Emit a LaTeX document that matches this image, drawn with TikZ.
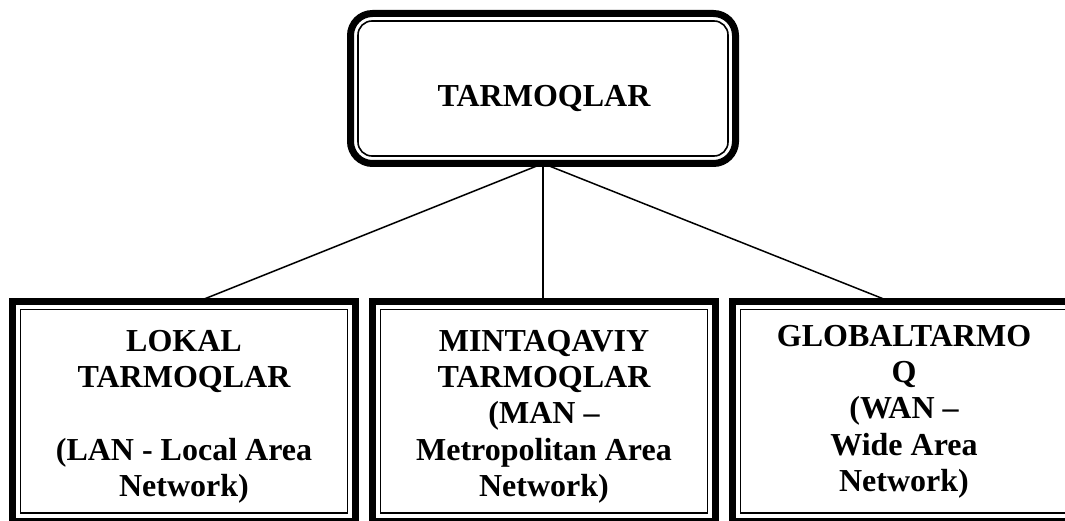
\documentclass[tikz,border=0pt]{standalone}
\usepackage{fontspec}
\setmainfont{Liberation Serif}
\usetikzlibrary{calc}
\begin{document}
\begin{tikzpicture}[x=1pt,y=1pt,
  framebox/.style={draw=black, line width=7pt, outer sep=0pt, inner sep=0pt, fill=white},
  innerframe/.style={draw=black, line width=1.6pt},
  connector/.style={draw=black, line width=1.5pt},
  caption/.style={font=\fontsize{32}{36.25}\selectfont\bfseries, align=center, inner sep=0pt}
]
\useasboundingbox (0,0) rectangle (1065,520);
\begin{scope}
\clip (0,0) rectangle (1065,520);

% root box: thick outer frame with a thin inner frame, rounded
\node[framebox, rounded corners=22pt, minimum width=385pt, minimum height=150pt] (top) at (543,431.5) {};
\draw[innerframe, rounded corners=14pt] ($(top.south west)+(7.5,7.5)$) rectangle ($(top.north east)+(-7.5,-7.5)$);
\node[caption, anchor=base] (toptext) at (544,413) {TARMOQLAR};

% three child boxes
\node[framebox, minimum width=343pt, minimum height=219.5pt] (lan) at (184,108.75) {};
\node[framebox, minimum width=343pt, minimum height=219.5pt] (man) at (544,108.75) {};
\node[framebox, minimum width=343pt, minimum height=219.5pt] (wan) at (904,108.75) {};
\foreach \b in {lan,man,wan}
  \draw[innerframe] ($(\b.south west)+(8,8)$) rectangle ($(\b.north east)+(-8,-8)$);

\node[caption] (lantext) at (184,103.3) {LOKAL\\TARMOQLAR\\[36.25pt](LAN - Local Area\\Network)};
\node[caption] (mantext) at (544,103.3) {MINTAQAVIY\\TARMOQLAR\\(MAN --\\Metropolitan Area\\Network)};
\node[caption] (wantext) at (904,108.3) {GLOBALTARMO\\Q\\(WAN --\\Wide Area\\Network)};

% connectors from the root to each child
\draw[connector] (top.south) -- ([xshift=14pt]lan.north);
\draw[connector] (top.south) -- (top.south |- man.north);
\draw[connector] (top.south) -- ([xshift=-14pt]wan.north);
\end{scope}
\end{tikzpicture}
\end{document}
